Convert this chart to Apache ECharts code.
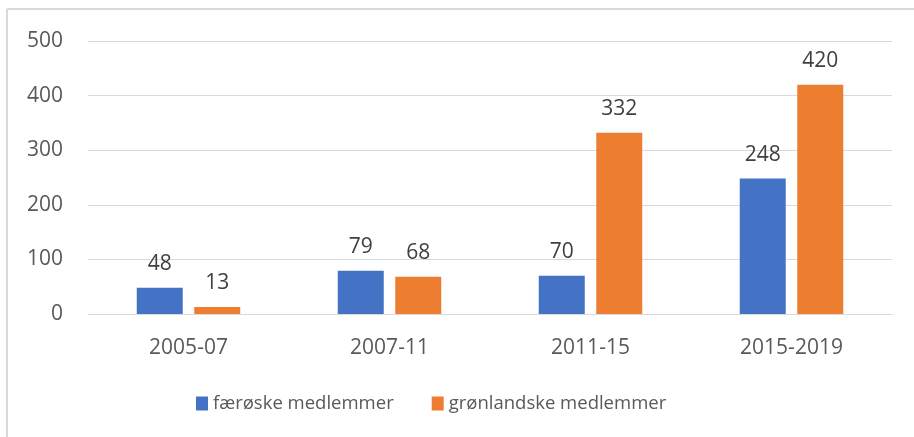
<!DOCTYPE html>
<html>
<head>
<meta charset="utf-8">
<script src="https://cdn.jsdelivr.net/npm/echarts@6/dist/echarts.min.js"></script>
<style>
  html, body { margin: 0; padding: 0; background: #fff; }
  #chart { width: 914px; height: 437px; }
</style>
</head>
<body>
<div id="chart"></div>
<script>
  // data
  const periods = ['2005-07', '2007-11', '2011-15', '2015-2019'];
  const faeroske = [48, 79, 70, 248];
  const gronlandske = [13, 68, 332, 420];
  const seriesNames = ['færøske medlemmer', 'grønlandske medlemmer'];

  const font = '"Open Sans", "Noto Sans", sans-serif';

  let myChart = echarts.init(document.getElementById('chart'));
  myChart.setOption({
    animation: false,
    color: ['#4472c4', '#ed7d31'],
    textStyle: { fontFamily: font },
    graphic: [
      // frame lines (top and left only, as in the source)
      { type: 'line', shape: { x1: 7, y1: 9, x2: 914, y2: 9 }, style: { stroke: '#d9d9d9', lineWidth: 2 } },
      { type: 'line', shape: { x1: 7, y1: 9, x2: 7, y2: 437 }, style: { stroke: '#d9d9d9', lineWidth: 2 } }
    ],
    legend: {
      left: 191,
      top: 389,
      itemWidth: 12,
      itemHeight: 14,
      itemGap: 38,
      icon: 'rect',
      textStyle: { fontSize: 18.5, color: '#595959', fontFamily: font },
      data: seriesNames
    },
    grid: { left: 88, right: 22, top: 41, bottom: 123 },
    xAxis: {
      type: 'category',
      data: periods,
      axisLine: { lineStyle: { color: '#d9d9d9' } },
      axisTick: { show: false },
      axisLabel: { fontSize: 21, color: '#595959', margin: 24, fontFamily: font }
    },
    yAxis: {
      type: 'value',
      min: 0,
      max: 500,
      interval: 100,
      axisLine: { show: false },
      axisTick: { show: false },
      splitLine: { lineStyle: { color: '#d9d9d9', width: 1 } },
      axisLabel: { fontSize: 21, color: '#595959', margin: 25, fontFamily: font }
    },
    series: [
      {
        name: seriesNames[0],
        type: 'bar',
        data: faeroske,
        barWidth: 46,
        barGap: '25%',
        label: { show: true, position: 'top', distance: 13, fontSize: 21, color: '#404040', fontFamily: font }
      },
      {
        name: seriesNames[1],
        type: 'bar',
        data: gronlandske,
        barWidth: 46,
        barGap: '25%',
        label: { show: true, position: 'top', distance: 13, fontSize: 21, color: '#404040', fontFamily: font }
      }
    ]
  });
</script>
</body>
</html>
